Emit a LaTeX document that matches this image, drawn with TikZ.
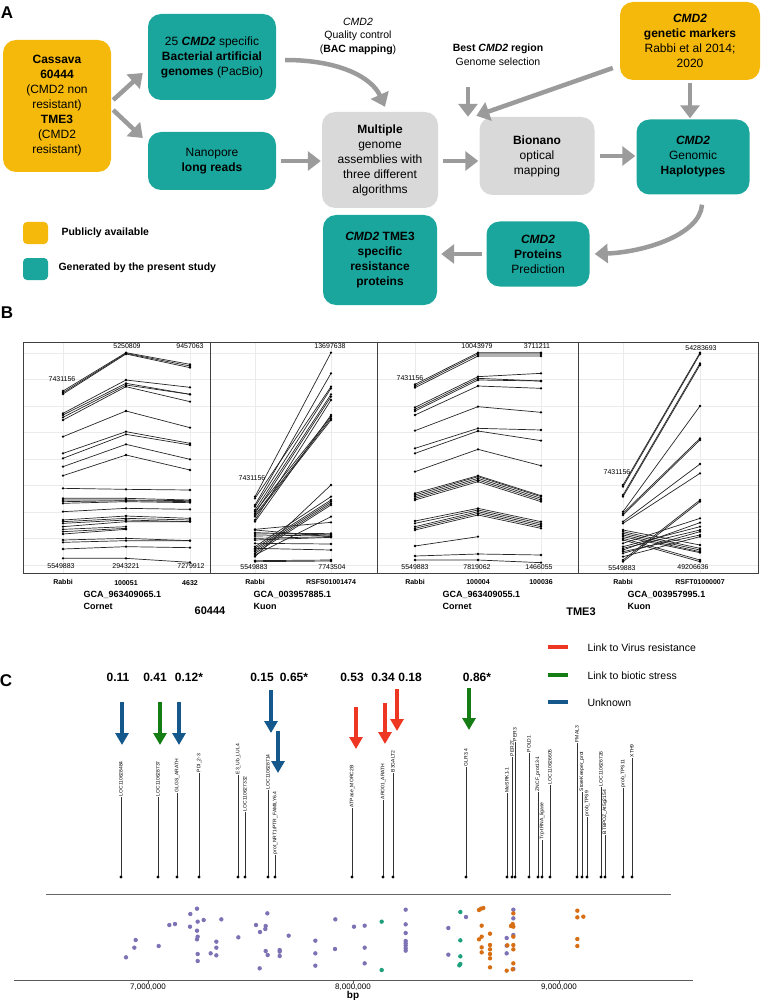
\documentclass[tikz,border=0pt]{standalone}
\usepackage{fontspec}
\setmainfont{Liberation Sans}
\usetikzlibrary{arrows.meta}

\definecolor{pubyellow}{RGB}{245,185,12}
\definecolor{ownteal}{RGB}{26,166,156}
\definecolor{toolgray}{RGB}{217,217,217}
\definecolor{flowgray}{RGB}{155,155,155}
\definecolor{virusred}{RGB}{238,55,35}
\definecolor{stressgreen}{RGB}{20,125,20}
\definecolor{unkblue}{RGB}{20,88,140}
\definecolor{snpviolet}{RGB}{125,115,180}
\definecolor{snpteal}{RGB}{30,160,125}
\definecolor{snporange}{RGB}{215,110,20}

\tikzset{
  stagebox/.style={rounded corners=13pt, align=center, inner sep=1pt, font=\fontsize{12}{15}\selectfont},
  pub/.style={stagebox, fill=pubyellow},
  own/.style={stagebox, fill=ownteal},
  tool/.style={stagebox, fill=toolgray},
  note/.style={align=center, font=\fontsize{10.5}{13.5}\selectfont},
  panellabel/.style={font=\fontsize{17}{17}\selectfont\bfseries},
  flow/.style={draw=flowgray, line width=4.5pt, -{Triangle[length=13pt,width=19pt]}},
  gridline/.style={draw=black!8, line width=0.5pt},
  panelframe/.style={draw=black!75, line width=0.8pt},
  synline/.style={draw=black!85, line width=0.7pt},
  tick/.style={font=\fontsize{7}{7}\selectfont, inner sep=0.5pt},
  coltick/.style={font=\fontsize{7}{7}\selectfont\bfseries, inner sep=0.5pt},
  asm/.style={font=\fontsize{9}{9}\selectfont\bfseries, inner sep=0.5pt},
  hitarrow/.style={line width=4pt, -{Triangle[length=12pt,width=13pt]}},
  score/.style={font=\fontsize{12}{12}\selectfont\bfseries},
  geneline/.style={draw=black!80, line width=0.6pt},
  genename/.style={rotate=90, anchor=west, inner sep=0.6pt, font=\fontsize{5}{5}\selectfont},
}

\begin{document}
\begin{tikzpicture}[x=1pt,y=-1pt]
\useasboundingbox (0,0) rectangle (761,1000);

% ---------- A : workflow ----------
\node[panellabel] (labA) at (7,13) {A};

\node[pub, minimum width=108pt, minimum height=132pt] (cassava) at (57,106)
  {\textbf{Cassava}\\\textbf{60444}\\(CMD2 non\\resistant)\\\textbf{TME3}\\(CMD2\\resistant)};
\node[own, minimum width=128pt, minimum height=86pt] (bac) at (212,57)
  {25 \textbf{\textit{CMD2}} specific\\\textbf{Bacterial artificial}\\\textbf{genomes} (PacBio)};
\node[own, minimum width=128pt, minimum height=58pt] (nano) at (212,161)
  {Nanopore\\\textbf{long reads}};
\node[tool, minimum width=116pt, minimum height=96pt] (multi) at (380,160)
  {\textbf{Multiple}\\genome\\assemblies with\\three different\\algorithms};
\node[tool, minimum width=115pt, minimum height=78pt] (bionano) at (537,156)
  {\textbf{Bionano}\\optical\\mapping};
\node[own, minimum width=113pt, minimum height=75pt] (haplo) at (693,157)
  {\textbf{\textit{CMD2}}\\Genomic\\\textbf{Haplotypes}};
\node[pub, minimum width=140pt, minimum height=78pt] (markers) at (690,41)
  {\textbf{\textit{CMD2}}\\\textbf{genetic markers}\\Rabbi et al 2014;\\2020};
\node[own, minimum width=103pt, minimum height=65pt] (proteins) at (538,254)
  {\textbf{\textit{CMD2}}\\\textbf{Proteins}\\Prediction};
\node[own, minimum width=114pt, minimum height=90pt] (resist) at (380,260)
  {\textbf{\textit{CMD2} TME3}\\\textbf{specific}\\\textbf{resistance}\\\textbf{proteins}};

\node[note] (qc) at (358,36) {\textit{CMD2}\\Quality control\\(\textbf{BAC mapping})};
\node[note] (best) at (498,55) {\textbf{Best \textit{CMD2} region}\\Genome selection};
\coordinate (bestin) at (468,87);

\draw[flow] ([xshift=2pt,yshift=6pt]cassava.east) -- ([xshift=-5pt,yshift=-16pt]bac.west);
\draw[flow] ([xshift=2pt,yshift=-4pt]cassava.east) -- ([xshift=-5pt,yshift=23pt]nano.west);
\draw[flow] ([xshift=9pt,yshift=-3pt]bac.east) .. controls ([xshift=64pt,yshift=-3pt]bac.east)
  and ([xshift=-8pt,yshift=34pt]multi.north) .. ([xshift=5pt,yshift=5pt]multi.north);
\draw[flow] ([xshift=5pt]nano.east) -- ([xshift=-1pt]nano.east -| multi.west);
\draw[flow] ([xshift=5pt,yshift=-1pt]multi.east) -- ([xshift=-1pt,yshift=-1pt]multi.east -| bionano.west);
\draw[flow] (bestin) -- (bestin |- bionano.north);
\draw[flow] ([xshift=-7pt,yshift=-27pt]markers.west) -- ([xshift=-3pt,yshift=1pt]bionano.north west);
\draw[flow] ([yshift=-3pt]markers.south) -- ([yshift=1pt]markers.south |- haplo.north);
\draw[flow] ([xshift=5pt]bionano.east) -- ([xshift=-1pt]bionano.east -| haplo.west);
\draw[flow] ([xshift=9pt,yshift=-10pt]haplo.south) .. controls ([xshift=7pt,yshift=-40pt]haplo.south)
  and ([xshift=55pt,yshift=2pt]proteins.east) .. ([xshift=5pt]proteins.east);
\draw[flow] ([xshift=-4pt]proteins.west) -- ([xshift=4pt,yshift=6pt]resist.east);

\node[pub, rounded corners=4pt, minimum width=25pt, minimum height=22pt, inner sep=0pt] (legpub) at (35.5,233) {};
\node[anchor=west, font=\fontsize{10.5}{10.5}\selectfont\bfseries] (legpubtxt) at (58,233) {Publicly available};
\node[own, rounded corners=4pt, minimum width=25pt, minimum height=22pt, inner sep=0pt] (legown) at (35.5,269) {};
\node[anchor=west, font=\fontsize{10.5}{10.5}\selectfont\bfseries] (legowntxt) at (55,268) {Generated by the present study};

% ---------- B : synteny ----------
\node[panellabel] (labB) at (7,313) {B};
\foreach \l/\r in {23/210,210/377,377/578,578/758}{
  \foreach \g in {0,...,8}
    \draw[gridline] (\l,{353+\g*26.5}) -- (\r,{353+\g*26.5});
}
\foreach \c in {63,126,190,255,331,415,478,541,623,700}
  \draw[gridline] (\c,342) -- (\c,573);

% 60444 vs Cornet
\foreach \a/\b/\c in {183/68/103,188/70/108,192/72/113,250/150/172,255/160/193,262/165/193,
    270/170/215,320/243/293,370/305/340,385/313/345,410/343/388,437/375/420,475/478/480,
    505/505/510,510/510/512,515/512/515,520/515/518,545/535/538,570/558/565,575/565/570,
    580/570/575,590/575/575,630/625/632,637/632/632,657/650/653,685/685/697}{
  \draw[synline] (63,{330+\a/3}) -- (126,{330+\b/3}) -- (190,{330+\c/3});
  \fill (63,{330+\a/3}) circle (1.3) (126,{330+\b/3}) circle (1.3) (190,{330+\c/3}) circle (1.3);
}
\foreach \a/\b in {598/590,605/595,612/598}{
  \draw[synline] (63,{330+\a/3}) -- (126,{330+\b/3});
  \fill (63,{330+\a/3}) circle (1.3) (126,{330+\b/3}) circle (1.3);
}
% 60444 vs Kuon
\foreach \a/\b in {500/68,505/170,525/130,530/175,540/193,550/200,570/210,575/255,545/260,
    555/265,560/270,680/465,650/500,655/510,660/515,665/520,670/525,675/560,598/577,
    612/610,618/615,625/620,630/622,640/642,655/660,692/690,695/693,600/620,608/615}{
  \draw[synline] (255,{330+\a/3}) -- (331,{330+\b/3});
  \fill (255,{330+\a/3}) circle (1.3) (331,{330+\b/3}) circle (1.3);
}
% TME3 vs Cornet
\foreach \a/\b/\c in {163/68/68,168/72/72,173/78/78,232/140/130,238/145/153,243/150/153,
    255/168/175,302/230/247,355/295/300,370/303/332,425/358/407,490/437/497,495/440/500,
    500/445/505,505/450/510,510/455/515,573/535/575,580/540/580,590/545/585,595/550/590,
    600/555/595,678/672/675,690/690/698}{
  \draw[synline] (415,{330+\a/3}) -- (478,{330+\b/3}) -- (541,{330+\c/3});
  \fill (415,{330+\a/3}) circle (1.3) (478,{330+\b/3}) circle (1.3) (541,{330+\c/3}) circle (1.3);
}
\draw[synline] (415,{330+648/3}) -- (478,{330+620/3});
\fill (415,{330+648/3}) circle (1.3) (478,{330+620/3}) circle (1.3);
% TME3 vs Kuon
\foreach \a/\b in {465/68,470/72,495/100,500/105,545/228,550/325,555/330,575/402,580/430,
    690/510,695/515,640/565,660/578,650/590,655/600,670/605,665/615,680/620,600/645,
    605/655,610/660,615/665,620/668,625/690,630/695}{
  \draw[synline] (623,{330+\a/3}) -- (700,{330+\b/3});
  \fill (623,{330+\a/3}) circle (1.3) (700,{330+\b/3}) circle (1.3);
}
\foreach \l/\r in {23/210,210/377,377/578,578/758}
  \draw[panelframe] (\l,342) rectangle (\r,573);

\node[tick] at (127,346) {5250809};
\node[tick] at (190,346) {9457063};
\node[tick] at (62,379) {7431156};
\node[tick] at (61,566) {5549883};
\node[tick] at (126,566) {2943221};
\node[tick] at (191,566) {7279912};
\node[tick] at (330,346) {13697638};
\node[tick] at (252,478) {7431156};
\node[tick] at (254,567) {5549883};
\node[tick] at (332,567) {7743504};
\node[tick] at (477,346) {10043979};
\node[tick] at (537,346) {3711211};
\node[tick] at (410,378) {7431156};
\node[tick] at (415,567) {5549883};
\node[tick] at (477,567) {7819062};
\node[tick] at (539,567) {1466055};
\node[tick] at (701,348) {54283693};
\node[tick] at (617,472) {7431156};
\node[tick] at (622,568) {5549883};
\node[tick] at (693,567) {49206636};

\node[coltick] at (63,582) {Rabbi};
\node[coltick] at (126,583) {100051};
\node[coltick] at (190,583) {4632};
\node[coltick] at (255,582) {Rabbi};
\node[coltick] at (331,582) {RSFS01001474};
\node[coltick] at (415,582) {Rabbi};
\node[coltick] at (478,582) {100004};
\node[coltick] at (541,582) {100036};
\node[coltick] at (623,582) {Rabbi};
\node[coltick] at (700,582) {RSFT01000007};

\node[asm, anchor=west] at (83,595) {GCA\_963409065.1};
\node[asm, anchor=west] at (83,606) {Cornet};
\node[asm, anchor=west] at (253,595) {GCA\_003957885.1};
\node[asm, anchor=west] at (253,606) {Kuon};
\node[asm, anchor=west] at (442,595) {GCA\_963409055.1};
\node[asm, anchor=west] at (442,606) {Cornet};
\node[asm, anchor=west] at (627,595) {GCA\_003957995.1};
\node[asm, anchor=west] at (627,606) {Kuon};
\node[font=\fontsize{11}{11}\selectfont\bfseries] at (210,611) {60444};
\node[font=\fontsize{11}{11}\selectfont\bfseries] at (581,612) {TME3};

% ---------- C : candidate genes ----------
\node[panellabel] (labC) at (6,681) {C};
\foreach \x/\v in {118/0.11,155/0.41,189/0.12*,262/0.15,294/0.65*,352/0.53,383/0.34,410/0.18,477/0.86*}
  \node[score] at (\x,677) {\v};

\foreach \x/\a/\b/\c in {122/702/745/unkblue,160/702/745/stressgreen,179/702/745/unkblue,
    271/690/733/unkblue,278/731/773/unkblue,356/707/749/virusred,385/703/744/virusred,
    397/689/731/virusred,469/688/730/stressgreen}
  \draw[hitarrow, draw=\c, fill=\c] (\x,\a) -- (\x,\b);

\foreach \y/\c/\t in {647/virusred/Link to Virus resistance,675/stressgreen/Link to biotic stress,702/unkblue/Unknown}{
  \draw[\c, line width=4pt] (548,\y) -- (568,\y);
  \node[anchor=west, font=\fontsize{10.5}{10.5}\selectfont] at (584,{\y+1}) {\t};
}

\foreach \x/\t/\n in {121/797/LOC110628484,158/797/LOC110628737,177/793/GLGS\_ARATH,
    199/773/PDI\_2-3,238/775/E3\_Ub\_LUL4,245/812/LOC110627332,268/790/LOC110628714,
    275/855/{prot\_NRT1/PTR\_FAMILY6.4},352/808/ATPase\_MORC2B,383/800/ARO01\_ARATH,
    393/773/B3GALT2,466/767/GLR3.4,507/793/MeSRK1-1,512/757/PER27,515/742/PER3,
    529/753/POLD1,538/792/ZNCF\_prot13-1,542/840/Trp-tRNA\_ligase,550/785/LOC110626605,
    577/743/FMAL3,582/792/StoreKeeper\_prot,587/817/prob\_TPS9,601/787/LOC110626726,
    605/835/BTBPOZ\_At5g2154,623/788/prob\_TPS11,632/758/XTH9}{
  \draw[geneline] (\x,\t) -- (\x,877);
  \fill (\x,877) circle (1.7);
  \node[genename] at (\x,\t) {\n};
}

\draw[draw=black!60, line width=0.7pt] (46,894) -- (671,894);

\foreach \X/\Y in {378/532,403/503,407/480,476/498,508/435,525/432,571/402,591/386,611/420,
    593/425,570/440,591/452,593/470,591/478,649/485,649/503,593/522,632/520,649/526,593/543,
    664/418,715/472,768/435,797/438,796/447,780/456,802/400,797/513,803/525,839/510,839/515,
    839/528,779/565,866/467,946/482,946/520,946/557,1006/418,1005/507,1062/440,1094/437,
    1094/503,1094/550,1217/389,1217/433,1217/459,1217/483,1217/490,1217/497,1217/505,
    1217/512,1345/444,1345/524,1398/411,1540/389,1520/474,1520/497,1520/520,1540/465,
    1540/415,1540/567}
  \fill[snpviolet] ({\X/3},{780+\Y/3}) circle (2.2);
\foreach \X/\Y in {1145/425,1145/570,1381/396,1381/481,1381/529,1381/552,1378/556}
  \fill[snpteal] ({\X/3},{780+\Y/3}) circle (2.2);
\foreach \X/\Y in {1437/390,1443/386,1450/384,1445/437,1445/470,1437/478,1445/502,1445/517,
    1470/461,1470/495,1470/508,1470/522,1470/535,1470/562,1540/400,1538/432,1540/440,
    1533/438,1540/470,1522/496,1540/495,1540/508,1540/550,1520/572,1538/568,1732/392,
    1732/412,1750/410,1732/477,1732/498}
  \fill[snporange] ({\X/3},{780+\Y/3}) circle (2.2);

\draw[draw=black!65, line width=1pt] (14,980) -- (693,980);
\foreach \x/\v in {148/{7,000,000},353/{8,000,000},559/{9,000,000}}{
  \draw[black!65, line width=0.8pt] (\x,980) -- (\x,983);
  \node[font=\fontsize{8}{8}\selectfont, inner sep=0.5pt] at (\x,987) {\v};
}
\node[font=\fontsize{10}{10}\selectfont\bfseries, inner sep=0.5pt] at (353,996) {bp};

\end{tikzpicture}
\end{document}
